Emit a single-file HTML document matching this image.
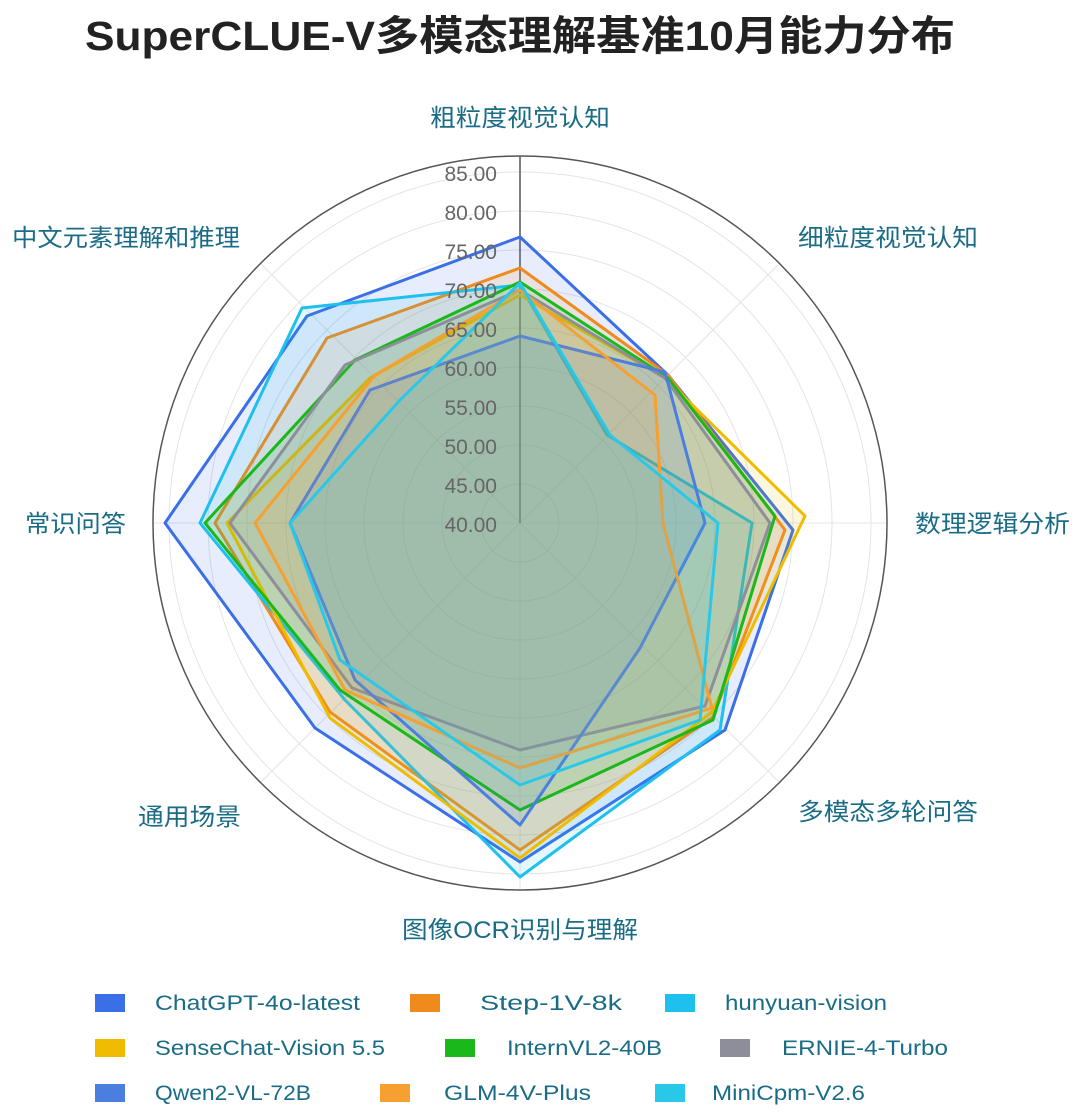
<!DOCTYPE html>
<html><head><meta charset="utf-8"><style>
body{margin:0;width:1080px;height:1115px;background:#fff;overflow:hidden;font-family:"Liberation Sans","Noto Sans CJK SC",sans-serif}
</style></head><body>
<svg width="1080" height="1115" xmlns="http://www.w3.org/2000/svg" font-family="Liberation Sans, Noto Sans CJK SC, sans-serif">
<text x="85" y="50" font-size="41" font-weight="bold" fill="#222" textLength="870" lengthAdjust="spacingAndGlyphs">SuperCLUE-V多模态理解基准10月能力分布</text>
<g fill="none" stroke="#e4e4e4" stroke-width="1">
<circle cx="520" cy="523" r="39"/><circle cx="520" cy="523" r="78"/><circle cx="520" cy="523" r="117"/><circle cx="520" cy="523" r="156"/><circle cx="520" cy="523" r="195"/><circle cx="520" cy="523" r="234"/><circle cx="520" cy="523" r="273"/><circle cx="520" cy="523" r="312"/><circle cx="520" cy="523" r="351"/>
<line x1="520" y1="156" x2="520" y2="890"/><line x1="153" y1="523" x2="887" y2="523"/>
<line x1="261" y1="264" x2="779" y2="782"/><line x1="779" y1="264" x2="261" y2="782"/>
</g>
<circle cx="520" cy="523" r="367" fill="none" stroke="#555" stroke-width="1.5"/>
<line x1="520" y1="156" x2="520" y2="523" stroke="#555" stroke-width="1.5"/>
<g stroke-width="3" stroke-linejoin="round">
<polygon points="520,237 668,375 793,530 725,730 520,862 315,728 165,523 307,316" fill="#3a6fe8" fill-opacity="0.12" stroke="#3a6fe8"/>
<polygon points="520,268 668,375 785,530 713,717 520,850 330,712 215,523 327,338" fill="#f08a1c" fill-opacity="0.12" stroke="#f08a1c"/>
<polygon points="520,285 607,435 752,523 720,730 520,877 345,700 200,523 302,308" fill="#1ec0ee" fill-opacity="0.12" stroke="#1ec0ee"/>
<polygon points="520,295 665,378 805,516 712,712 520,858 330,718 227,523 370,378" fill="#f0bc00" fill-opacity="0.12" stroke="#f0bc00"/>
<polygon points="520,282 668,378 775,516 713,720 520,810 340,690 205,523 355,360" fill="#1ab81a" fill-opacity="0.12" stroke="#1ab81a"/>
<polygon points="520,290 665,378 770,523 705,706 520,750 352,688 230,523 345,365" fill="#8e8e9a" fill-opacity="0.12" stroke="#8e8e9a"/>
<polygon points="520,336 665,372 705,523 640,648 520,825 355,680 290,523 370,390" fill="#4a7fe0" fill-opacity="0.12" stroke="#4a7fe0"/>
<polygon points="520,290 655,395 663,523 712,708 520,768 345,690 255,523 375,375" fill="#f5a030" fill-opacity="0.12" stroke="#f5a030"/>
<polygon points="520,283 610,435 718,523 700,720 520,785 340,660 290,523 400,400" fill="#2ac8e8" fill-opacity="0.12" stroke="#2ac8e8"/>
</g>
<g font-size="21" fill="#666" text-anchor="end">
<text x="497" y="181">85.00</text><text x="497" y="220">80.00</text><text x="497" y="259">75.00</text><text x="497" y="298">70.00</text><text x="497" y="337">65.00</text><text x="497" y="376">60.00</text><text x="497" y="415">55.00</text><text x="497" y="454">50.00</text><text x="497" y="493">45.00</text><text x="497" y="532">40.00</text>
</g>
<g font-size="24" fill="#1a6c86">
<text x="430" y="126" textLength="180" lengthAdjust="spacingAndGlyphs">粗粒度视觉认知</text>
<text x="798" y="246" textLength="180" lengthAdjust="spacingAndGlyphs">细粒度视觉认知</text>
<text x="915" y="532" textLength="155" lengthAdjust="spacingAndGlyphs">数理逻辑分析</text>
<text x="798" y="820" textLength="180" lengthAdjust="spacingAndGlyphs">多模态多轮问答</text>
<text x="402" y="938" textLength="236" lengthAdjust="spacingAndGlyphs">图像OCR识别与理解</text>
<text x="138" y="825" textLength="103" lengthAdjust="spacingAndGlyphs">通用场景</text>
<text x="25" y="532" textLength="101" lengthAdjust="spacingAndGlyphs">常识问答</text>
<text x="12" y="246" textLength="228" lengthAdjust="spacingAndGlyphs">中文元素理解和推理</text>
</g>
<g font-size="21" fill="#1a6c86">
<rect x="95" y="994" width="30" height="18" fill="#3a6fe8"/><text x="155" y="1010" textLength="205" lengthAdjust="spacingAndGlyphs">ChatGPT-4o-latest</text>
<rect x="410" y="994" width="30" height="18" fill="#f08a1c"/><text x="480" y="1010" textLength="142" lengthAdjust="spacingAndGlyphs">Step-1V-8k</text>
<rect x="665" y="994" width="30" height="18" fill="#1ec0ee"/><text x="725" y="1010" textLength="162" lengthAdjust="spacingAndGlyphs">hunyuan-vision</text>
<rect x="95" y="1039" width="30" height="18" fill="#f0bc00"/><text x="155" y="1055" textLength="230" lengthAdjust="spacingAndGlyphs">SenseChat-Vision 5.5</text>
<rect x="445" y="1039" width="30" height="18" fill="#1ab81a"/><text x="507" y="1055" textLength="155" lengthAdjust="spacingAndGlyphs">InternVL2-40B</text>
<rect x="720" y="1039" width="30" height="18" fill="#8e8e9a"/><text x="782" y="1055" textLength="166" lengthAdjust="spacingAndGlyphs">ERNIE-4-Turbo</text>
<rect x="95" y="1084" width="30" height="18" fill="#4a7fe0"/><text x="155" y="1100" textLength="156" lengthAdjust="spacingAndGlyphs">Qwen2-VL-72B</text>
<rect x="380" y="1084" width="30" height="18" fill="#f5a030"/><text x="444" y="1100" textLength="147" lengthAdjust="spacingAndGlyphs">GLM-4V-Plus</text>
<rect x="655" y="1084" width="30" height="18" fill="#2ac8e8"/><text x="712" y="1100" textLength="153" lengthAdjust="spacingAndGlyphs">MiniCpm-V2.6</text>
</g>
</svg>
</body></html>
